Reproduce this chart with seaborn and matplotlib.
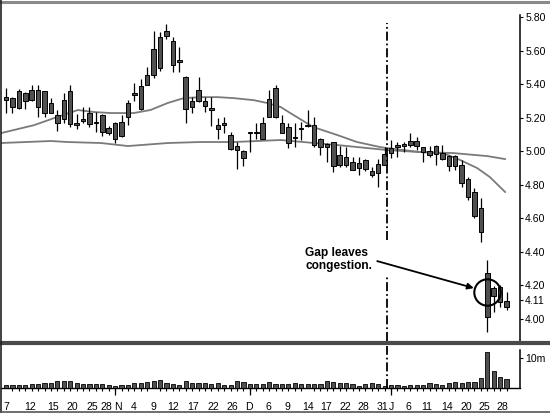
import numpy as np
import pandas as pd
import matplotlib
matplotlib.use("Agg")
import matplotlib.pyplot as plt
import seaborn as sns
from matplotlib.lines import Line2D

sns.set_style("white")
plt.rcParams["font.family"] = ["Liberation Sans", "DejaVu Sans"]

# ---------------- data ----------------
high = [5.376, 5.322, 5.370, 5.352, 5.394, 5.394, 5.358, 5.316, 5.245, 5.346,
        5.394, 5.221, 5.263, 5.263, 5.233, 5.221, 5.149, 5.173, 5.215, 5.304,
        5.406, 5.430, 5.501, 5.716, 5.710, 5.758, 5.681, 5.621, 5.448, 5.322,
        5.442, 5.322, 5.322, 5.197, 5.203, 5.113, 5.054, 5.006, 5.113, 5.167,
        5.203, 5.364, 5.394, 5.215, 5.167, 5.167, 5.173, 5.245, 5.203, 5.078,
        5.048, 5.054, 5.030, 5.024, 4.964, 4.964, 4.952, 4.904, 4.952, 5.024,
        5.066, 5.054, 5.054, 5.107, 5.084, 5.024, 5.030, 5.036, 5.036, 4.976,
        4.976, 4.946, 4.845, 4.779, 4.719, 4.349, 4.194, 4.200, 4.158]
low = [5.227, 5.227, 5.251, 5.251, 5.299, 5.203, 5.203, 5.227, 5.119, 5.167,
       5.143, 5.131, 5.167, 5.143, 5.113, 5.090, 5.096, 5.048, 5.084, 5.155,
       5.299, 5.245, 5.394, 5.436, 5.478, 5.669, 5.472, 5.472, 5.167, 5.227,
       5.293, 5.233, 5.149, 5.072, 5.107, 5.006, 4.893, 4.910, 4.994, 5.072,
       5.072, 5.203, 5.197, 5.107, 5.018, 5.024, 5.066, 5.143, 5.024, 4.976,
       4.934, 4.875, 4.904, 4.904, 4.887, 4.857, 4.881, 4.845, 4.785, 4.916,
       4.958, 4.964, 4.994, 5.024, 5.006, 4.934, 4.964, 4.916, 4.946, 4.881,
       4.887, 4.785, 4.707, 4.600, 4.457, 3.919, 4.039, 4.069, 4.051]
open_ = [5.304, 5.316, 5.257, 5.346, 5.304, 5.364, 5.358, 5.287, 5.215, 5.191,
         5.358, 5.167, 5.179, 5.227, 5.173, 5.215, 5.137, 5.072, 5.090, 5.203,
         5.334, 5.251, 5.394, 5.454, 5.496, 5.687, 5.657, 5.543, 5.442, 5.263,
         5.299, 5.299, 5.257, 5.155, 5.155, 5.096, 5.030, 5.000, 5.107, 5.107,
         5.072, 5.203, 5.376, 5.167, 5.143, 5.078, 5.131, 5.149, 5.155, 5.072,
         5.042, 5.054, 4.916, 4.964, 4.934, 4.898, 4.946, 4.881, 4.869, 4.916,
         4.988, 5.024, 5.030, 5.036, 5.060, 5.024, 5.000, 4.982, 4.988, 4.970,
         4.970, 4.916, 4.833, 4.755, 4.660, 4.272, 4.134, 4.188, 4.104]
close = [5.322, 5.263, 5.358, 5.299, 5.364, 5.263, 5.227, 5.227, 5.167, 5.304,
         5.161, 5.155, 5.191, 5.161, 5.167, 5.113, 5.107, 5.167, 5.173, 5.287,
         5.346, 5.388, 5.454, 5.609, 5.681, 5.716, 5.513, 5.531, 5.251, 5.299,
         5.364, 5.269, 5.245, 5.131, 5.167, 5.012, 5.006, 4.958, 5.113, 5.113,
         5.167, 5.310, 5.203, 5.107, 5.048, 5.084, 5.137, 5.155, 5.036, 5.024,
         5.024, 4.910, 4.976, 4.916, 4.887, 4.928, 4.893, 4.857, 4.922, 4.982,
         5.018, 5.036, 5.042, 5.060, 5.030, 4.994, 4.976, 5.030, 4.952, 4.910,
         4.910, 4.809, 4.725, 4.612, 4.516, 4.009, 4.182, 4.099, 4.069]
volume_m = [1.0, 1.0, 1.1, 1.1, 1.4, 1.4, 1.6, 1.7, 2.2, 2.3,
            2.3, 1.7, 1.4, 1.4, 1.25, 1.25, 1.1, 0.8, 1.1, 1.0,
            1.6, 1.7, 1.9, 2.2, 2.7, 1.7, 1.4, 1.0, 2.5, 1.6,
            1.6, 1.6, 1.4, 1.6, 1.1, 1.0, 2.5, 1.9, 1.4, 1.4,
            1.4, 1.9, 1.5, 1.3, 1.3, 1.6, 1.3, 1.3, 1.3, 1.3,
            2.4, 1.9, 1.7, 1.6, 1.3, 0.8, 1.3, 1.6, 1.3, 0.8,
            1.1, 1.1, 0.8, 1.0, 1.1, 1.1, 1.6, 1.3, 1.0, 1.6,
            2.1, 1.8, 1.9, 1.9, 3.3, 11.9, 5.8, 3.6, 2.9]

# moving averages (bar index, price)
ma_short_x = [-0.8, 4.4, 7.5, 11.2, 13.7, 16.3, 19.9, 22.5, 25.2, 27.7, 30.3, 33.0,
              35.5, 38.6, 40.7, 42.8, 44.3, 47.9, 51.6, 54.7, 58.3, 59.4, 64.5,
              68.1, 70.8, 73.4, 75.4, 77.8]
ma_short_y = [5.107, 5.155, 5.197, 5.245, 5.233, 5.227, 5.227, 5.245, 5.287, 5.316,
              5.322, 5.322, 5.316, 5.304, 5.287, 5.263, 5.227, 5.143, 5.096, 5.054,
              5.024, 5.018, 4.994, 4.988, 4.946, 4.899, 4.845, 4.755]
ma_long_x = [-0.8, 7.0, 9.6, 14.8, 19.0, 25.2, 30.3, 35.5, 42.8, 46.3, 51.6, 59.4,
             64.5, 69.7, 75.0, 77.8]
ma_long_y = [5.048, 5.060, 5.054, 5.048, 5.030, 5.048, 5.054, 5.054, 5.066, 5.054,
             5.036, 5.006, 4.994, 4.988, 4.970, 4.952]

price_ticks = [5.80, 5.60, 5.40, 5.20, 5.00, 4.80, 4.60, 4.40, 4.20, 4.11, 4.00]
price_labels = ["5.80", "5.60", "5.40", "5.20", "5.00", "4.80", "4.60", "4.40",
                "4.20", "4.11", "4.00"]
date_pos = [0, 3.7, 7.3, 10.4, 13.4, 15.7, 17.5, 19.9, 23.0, 26.1, 29.2, 32.3, 35.3,
            37.8, 40.9, 43.9, 47.0, 49.9, 52.9, 55.7, 58.7, 60.1, 62.7, 65.6, 68.7,
            71.7, 74.6, 77.4]
date_labels = ["7", "12", "15", "20", "25", "28", "N", "4", "9", "12", "17", "22",
               "26", "D", "6", "9", "14", "17", "22", "28", "31", "J", "6", "11",
               "14", "20", "25", "28"]
month_starts = [17, 38, 60]
event_x = 59.4
gap_bar = 75

n = len(high)
idx = np.arange(n)
df = pd.DataFrame({"i": idx, "open": open_, "high": high, "low": low,
                   "close": close, "vol": volume_m})

# ---------------- figure ----------------
W, H = 550, 413
fig = plt.figure(figsize=(W / 100, H / 100), dpi=100)
ax = fig.add_axes([1 / W, 1 - 341 / H, 519 / W, 338 / H])
axv = fig.add_axes([1 / W, 1 - 388 / H, 519 / W, 42 / H], sharex=ax)

body_col = "#505050"
ma_col = "#7a7a7a"

# candles
ax.vlines(df["i"], df["low"], df["high"], color="black", lw=0.9, zorder=3)
bot = np.minimum(df["open"], df["close"])
hgt = np.maximum(np.abs(df["close"] - df["open"]), 0.002)
ax.bar(df["i"], hgt, bottom=bot, width=0.7, color=body_col,
       edgecolor="black", linewidth=0.7, zorder=4)

# moving averages
sns.lineplot(x=ma_short_x, y=ma_short_y, ax=ax, color=ma_col, lw=1.3, zorder=2)
sns.lineplot(x=ma_long_x, y=ma_long_y, ax=ax, color=ma_col, lw=1.3, zorder=2)

ylo, yhi = 3.866, 5.884
ax.set_ylim(ylo, yhi)
ax.set_xlim(-0.78, 80.1)

# event line (broken where the note sits)
dd = (0, (5, 1.6, 1, 1.6))
ax.vlines([event_x], 4.469, 5.764, color="black", lw=1.3, linestyles=[dd], zorder=5)
ax.vlines([event_x], ylo, 4.248, color="black", lw=1.3, linestyles=[dd], zorder=5)

# annotation
ax.text(46.6, 4.43, "Gap leaves\ncongestion.", ha="left", va="top",
        fontsize=8.6, fontweight="bold", linespacing=1.15, color="black")
ax.annotate("", xy=(72.9, 4.182), xytext=(57.85, 4.343),
            arrowprops=dict(arrowstyle="-|>", color="black", lw=1.3,
                            mutation_scale=9, shrinkA=0, shrinkB=0))
ax.plot([gap_bar], [4.158], marker="o", ms=19, mfc="none", mec="black",
        mew=1.5, zorder=6)

# price axis
for s in ["top", "left", "bottom"]:
    ax.spines[s].set_visible(False)
ax.spines["right"].set_color("black")
ax.spines["right"].set_linewidth(1.1)
ax.spines["right"].set_bounds(ylo, 5.812)
ax.yaxis.tick_right()
ax.set_yticks(price_ticks)
ax.set_yticklabels(price_labels)
ax.tick_params(axis="y", direction="out", length=2.5, width=0.8, pad=1.2,
               labelsize=7.6, colors="black")
ax.tick_params(axis="x", bottom=False, labelbottom=False)
ax.set_xlabel("")
ax.set_ylabel("")

# volume
sns.barplot(data=df, x="i", y="vol", ax=axv, native_scale=True, color=body_col,
            saturation=1, edgecolor="black", linewidth=0.6, width=0.65,
            errorbar=None, zorder=3)
axv.set_ylim(0, 14)
axv.set_xlim(-0.78, 80.1)
axv.vlines([event_x], 0, 14, color="black", lw=1.3, linestyles=[dd], zorder=5)
axv.vlines(month_starts, -2.2, 0, color="black", lw=0.9, clip_on=False)
for s in ["top", "left"]:
    axv.spines[s].set_visible(False)
axv.spines["right"].set_bounds(0, 12.7)
axv.spines["right"].set_color("black")
axv.spines["right"].set_linewidth(1.1)
axv.spines["bottom"].set_color("black")
axv.spines["bottom"].set_linewidth(1.0)
axv.yaxis.tick_right()
axv.set_yticks([10])
axv.set_yticklabels(["10m"])
axv.tick_params(axis="y", direction="out", length=2.5, width=0.8, pad=1.2,
                labelsize=7.6, colors="black")
axv.set_xticks(date_pos)
axv.set_xticklabels(date_labels)
axv.set_xticks(idx, minor=True)
axv.tick_params(axis="x", which="major", length=0, pad=10, labelsize=7.6,
                colors="black")
axv.tick_params(axis="x", which="minor", bottom=True, direction="out",
                length=2.5, width=0.8, color="black")
axv.set_xlabel("")
axv.set_ylabel("")

# frame lines
fig.add_artist(Line2D([0, 1], [1 - 1.5 / H, 1 - 1.5 / H], color="#8a8a8a", lw=2.2))
fig.add_artist(Line2D([0, 1], [1 - 343 / H, 1 - 343 / H], color="#4a4a4a", lw=3.0))
fig.add_artist(Line2D([1 / W, 1 / W], [0, 1], color="#222222", lw=1.2))
fig.add_artist(Line2D([0, 1], [0.8 / H, 0.8 / H], color="#555555", lw=1.2))

fig.savefig("out.png", dpi=100)
